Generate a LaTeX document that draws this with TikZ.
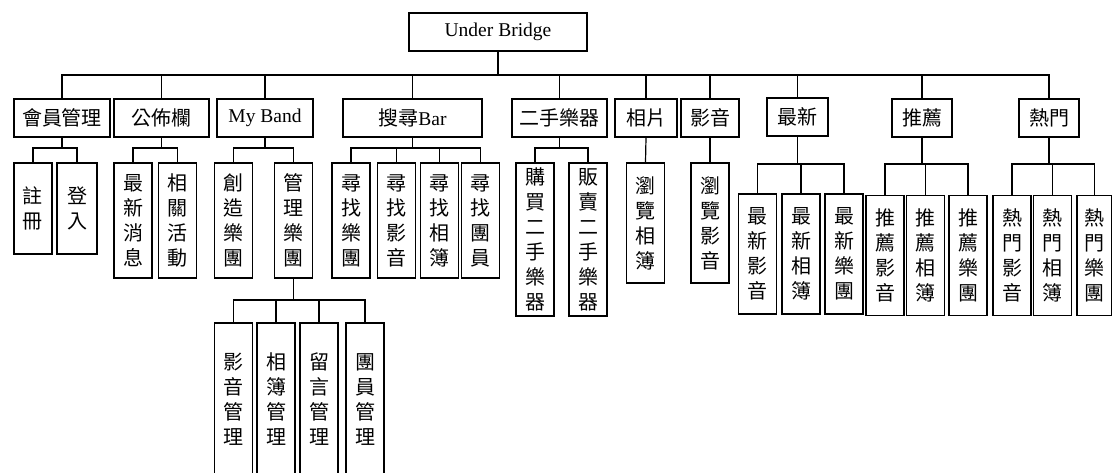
\documentclass[tikz,border=0pt]{standalone}
\usepackage{fontspec}
\setmainfont{Liberation Serif}
\newfontfamily\cjk{Noto Sans CJK TC}
\tikzset{
    box/.style={draw, line width=1.2pt, inner sep=0pt, align=center,
      font=\cjk\fontsize{20}{25}\selectfont},
    hbox/.style={box, minimum height=38pt, minimum width=#1},
    vbox/.style={box, minimum width=38pt, minimum height=#1},
    link/.style={line width=1.2pt}
}

\begin{document}
\begin{tikzpicture}[x=1pt, y=-1pt]
    \useasboundingbox (0,0) rectangle (1112,473);
    \coordinate (bus0) at (0,75);
    \coordinate (bus1) at (0,148);
    \coordinate (bus2) at (0,164);
    \coordinate (bus3) at (0,300);

    % root
    \node [hbox=178pt] (root) at (498,32) {\rmfamily\fontsize{19.5}{25}\selectfont Under Bridge};

    % first level
    \node [hbox=96pt] (mem) at (62,118) {會員管理};
    \node [hbox=95pt] (bul) at (161.5,118) {公佈欄};
    \node [hbox=96pt] (band) at (265,118) {\rmfamily\fontsize{19.5}{25}\selectfont My Band};
    \node [hbox=139pt] (srch) at (412.5,118) {搜尋{\rmfamily\fontsize{19.5}{25}\selectfont Bar}};
    \node [hbox=95pt] (used) at (559.5,118) {二手樂器};
    \node [hbox=62pt] (photo) at (646,118) {相片};
    \node [hbox=58pt] (video) at (710,118) {影音};
    \node [hbox=61pt] (new) at (797.5,117) {最新};
    \node [hbox=60pt] (rec) at (922,118) {推薦};
    \node [hbox=60pt] (hot) at (1049,118) {熱門};

    % second level
    \node [vbox=91pt] (reg) at (33,208.5) {註\\冊};
    \node [vbox=91pt, minimum width=40pt] (login) at (77,208.5) {登\\入};

    \node [vbox=115pt] (news) at (133,220.5) {最\\新\\消\\息};
    \node [vbox=115pt] (evt) at (177.5,220.5) {相\\關\\活\\動};

    \node [vbox=115pt] (create) at (233.5,220.5) {創\\造\\樂\\團};
    \node [vbox=115pt] (manage) at (293.5,220.5) {管\\理\\樂\\團};

    \node [vbox=115pt] (fband) at (351,220.5) {尋\\找\\樂\\團};
    \node [vbox=115pt] (fvid) at (396.5,220.5) {尋\\找\\影\\音};
    \node [vbox=115pt] (falb) at (439.5,220.5) {尋\\找\\相\\簿};
    \node [vbox=115pt] (fmem) at (480.5,220.5) {尋\\找\\團\\員};

    \node [vbox=153pt] (buy) at (535,239.5) {購\\買\\二\\手\\樂\\器};
    \node [vbox=153pt] (sell) at (588,239.5) {販\\賣\\二\\手\\樂\\器};

    \node [vbox=120pt] (valb) at (645.5,223) {瀏\\覽\\相\\簿};
    \node [vbox=120pt] (vvid) at (710,223) {瀏\\覽\\影\\音};

    \node [vbox=120pt] (nvid) at (757.5,254) {最\\新\\影\\音};
    \node [vbox=120pt] (nalb) at (801,254) {最\\新\\相\\簿};
    \node [vbox=120pt] (nband) at (844,254) {最\\新\\樂\\團};

    \node [vbox=120pt] (rvid) at (885,255.5) {推\\薦\\影\\音};
    \node [vbox=120pt] (ralb) at (925.5,255.5) {推\\薦\\相\\簿};
    \node [vbox=120pt] (rband) at (968,255.5) {推\\薦\\樂\\團};

    \node [vbox=120pt] (hvid) at (1012,255.5) {熱\\門\\影\\音};
    \node [vbox=120pt] (halb) at (1052.5,255.5) {熱\\門\\相\\簿};
    \node [vbox=120pt, minimum width=35pt] (hband) at (1094.5,255.5) {熱\\門\\樂\\團};

    % third level
    \node [vbox=153pt] (mvid) at (233.5,399.5) {影\\音\\管\\理};
    \node [vbox=153pt] (malb) at (276,399.5) {相\\簿\\管\\理};
    \node [vbox=153pt] (mmsg) at (319,399.5) {留\\言\\管\\理};
    \node [vbox=153pt] (mmem) at (365,399.5) {團\\員\\管\\理};

    % connectors
    \foreach \c in {mem,bul,band,srch,used,photo,video,new,rec,hot}
      \draw [link] (root.south) |- (bus0 -| \c.north) -- (\c.north);

    \foreach \p/\c in {mem/reg, mem/login, bul/news, bul/evt, band/create, band/manage,
      srch/fband, srch/fvid, srch/falb, srch/fmem, used/buy, used/sell}
      \draw [link] (\p.south) |- (bus1 -| \c.north) -- (\c.north);

    \draw [link] (photo.south) -- (valb.north);
    \draw [link] (video.south) -- (vvid.north);

    \foreach \p/\c in {new/nvid, new/nalb, new/nband, rec/rvid, rec/ralb, rec/rband,
      hot/hvid, hot/halb, hot/hband}
      \draw [link] (\p.south) |- (bus2 -| \c.north) -- (\c.north);

    \foreach \c in {mvid,malb,mmsg,mmem}
      \draw [link] (manage.south) |- (bus3 -| \c.north) -- (\c.north);
\end{tikzpicture}
\end{document}
